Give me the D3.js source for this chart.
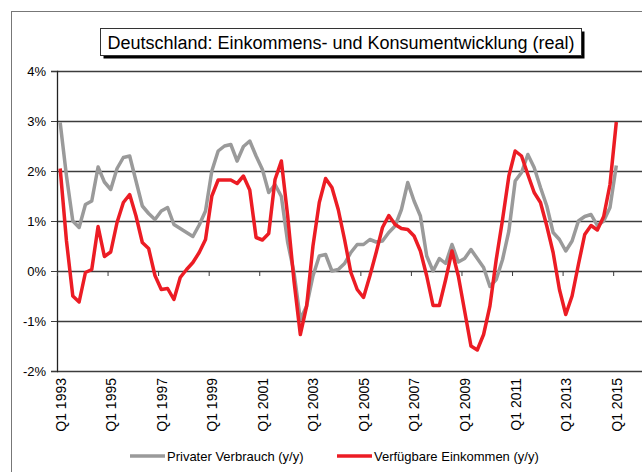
<!DOCTYPE html>
<html>
<head>
<meta charset="utf-8">
<script src="https://cdnjs.cloudflare.com/ajax/libs/d3/7.8.5/d3.min.js"></script>
<style>
  body { margin: 0; background: #ffffff; }
  text { font-family: Arial, "Liberation Sans", sans-serif; fill: #000; }
</style>
</head>
<body>
<div id="chart"></div>
<script>
// quarterly y/y rates, Q1 1993 .. Q1 2015
var startYear = 1993;
var nQuarters = 89;

var tickLabels = ["Q1 1993", "Q1 1995", "Q1 1997", "Q1 1999", "Q1 2001", "Q1 2003",
                  "Q1 2005", "Q1 2007", "Q1 2009", "Q1 2011", "Q1 2013", "Q1 2015"];

var yTicks = [-2, -1, 0, 1, 2, 3, 4];

var privaterVerbrauch = [
  2.97, 1.9, 1.0, 0.87, 1.33, 1.4, 2.08, 1.78, 1.63, 2.05,
  2.27, 2.3, 1.8, 1.3, 1.15, 1.03, 1.2, 1.27, 0.93, 0.85,
  0.77, 0.69, 0.92, 1.2, 2.0, 2.4, 2.5, 2.53, 2.2, 2.49,
  2.6, 2.3, 2.03, 1.57, 1.73, 1.49, 0.57, -0.03, -0.97, -0.7,
  -0.1, 0.3, 0.33, 0.0, 0.03, 0.15, 0.37, 0.53, 0.53, 0.63,
  0.58, 0.6, 0.77, 0.9, 1.23, 1.77, 1.4, 1.1, 0.3, 0.0,
  0.25, 0.15, 0.53, 0.18, 0.25, 0.43, 0.25, 0.07, -0.31, -0.17,
  0.23, 0.8, 1.8, 1.97, 2.33, 2.07, 1.67, 1.3, 0.77, 0.63,
  0.4, 0.6, 1.0, 1.09, 1.13, 0.91, 1.0, 1.27, 2.11
];

var verfuegbareEinkommen = [
  2.05, 0.6, -0.5, -0.62, -0.03, 0.03, 0.89, 0.29, 0.38, 0.97,
  1.37, 1.53, 1.1, 0.57, 0.45, -0.09, -0.37, -0.35, -0.57, -0.13,
  0.03, 0.17, 0.37, 0.63, 1.5, 1.82, 1.82, 1.82, 1.75, 1.9,
  1.62, 0.67, 0.62, 0.75, 1.83, 2.2, 1.1, -0.2, -1.27, -0.7,
  0.5, 1.37, 1.85, 1.67, 1.23, 0.63, -0.03, -0.37, -0.53, -0.1,
  0.37, 0.87, 1.11, 0.93, 0.85, 0.83, 0.7, 0.4, -0.1, -0.69,
  -0.69, -0.17, 0.4, -0.1, -0.8, -1.5, -1.58, -1.27, -0.7, 0.23,
  1.03, 1.9, 2.4, 2.3, 1.93, 1.57, 1.37, 0.9, 0.37, -0.37,
  -0.87, -0.5, 0.13, 0.73, 0.91, 0.82, 1.09, 1.73, 2.98
];

var seriesNames = ["Privater Verbrauch (y/y)", "Verfügbare Einkommen (y/y)"];
var seriesColors = ["#9a9a9a", "#ec1c24"];

var width = 642, height = 472;
var plot = {left: 57, top: 71, bottom: 371, right: 642};
var step = 6.32;

var svg = d3.select("#chart")
  .append("svg")
    .attr("width", width)
    .attr("height", height);

// outer chart frame (cut off at right/bottom like the original)
svg.append("rect")
  .attr("x", 11.5).attr("y", 11.5)
  .attr("width", 700).attr("height", 500)
  .attr("fill", "none")
  .attr("stroke", "#777");

// scales
var x = d3.scaleLinear()
  .domain([0, nQuarters])
  .range([plot.left, plot.left + nQuarters * step]);

var y = d3.scaleLinear()
  .domain([-2, 4])
  .range([plot.bottom, plot.top]);

// gridlines
svg.append("g")
  .attr("transform", "translate(" + plot.left + ",0)")
  .call(d3.axisRight(y).tickValues(yTicks).tickSize(plot.right - plot.left).tickFormat(""))
  .call(g => g.select(".domain").remove())
  .call(g => g.selectAll("line").attr("stroke", "#3c3c3c").attr("stroke-width", 1.3));

// y axis
svg.append("g")
  .attr("transform", "translate(" + plot.left + ",0)")
  .call(d3.axisLeft(y).tickValues(yTicks).tickSize(6).tickPadding(5).tickFormat(d => d + "%"))
  .call(g => g.select(".domain").attr("stroke", "#222").attr("stroke-width", 1.3))
  .call(g => g.selectAll("line").attr("stroke", "#3c3c3c"))
  .call(g => g.selectAll("text").style("font-size", "13px").style("font-family", "Arial, 'Liberation Sans', sans-serif"));

// category axis at 0%, ticks every 8 quarters
var tickIdx = tickLabels.map((d, i) => i * 8);
svg.append("g")
  .attr("transform", "translate(0," + y(0) + ")")
  .call(d3.axisBottom(x).tickValues(tickIdx).tickSize(5).tickFormat(""))
  .call(g => g.select(".domain").remove())
  .call(g => g.selectAll("line").attr("stroke", "#3c3c3c"));

// rotated labels at the bottom
svg.append("g")
  .selectAll("text")
  .data(tickLabels)
  .enter()
  .append("text")
    .attr("transform", (d, i) => "translate(" + (x(tickIdx[i]) + 3.5) + "," + (plot.bottom + 7) + ") rotate(-90)")
    .attr("text-anchor", "end")
    .attr("dominant-baseline", "central")
    .style("font-size", "14px")
    .text(d => d);

// lines
var line = d3.line()
  .x((d, i) => x(i + 0.5))
  .y(d => y(d));

[privaterVerbrauch, verfuegbareEinkommen].forEach(function(vals, k) {
  svg.append("path")
    .datum(vals)
    .attr("d", line)
    .attr("fill", "none")
    .attr("stroke", seriesColors[k])
    .attr("stroke-width", 3.5)
    .attr("stroke-linejoin", "round");
});

// title box with shadow
var titleBox = {x: 100.5, y: 28.5, w: 481, h: 27};
svg.append("rect")
  .attr("x", titleBox.x + 3).attr("y", titleBox.y + 3)
  .attr("width", titleBox.w).attr("height", titleBox.h)
  .attr("fill", "#000");
svg.append("rect")
  .attr("x", titleBox.x).attr("y", titleBox.y)
  .attr("width", titleBox.w).attr("height", titleBox.h)
  .attr("fill", "#fff")
  .attr("stroke", "#333");
svg.append("text")
  .attr("x", titleBox.x + titleBox.w / 2)
  .attr("y", titleBox.y + titleBox.h / 2 + 1)
  .attr("text-anchor", "middle")
  .attr("dominant-baseline", "central")
  .style("font-size", "18px")
  .text("Deutschland: Einkommens- und Konsumentwicklung (real)");

// legend
var legendX = [130, 337];
seriesNames.forEach(function(name, k) {
  svg.append("line")
    .attr("x1", legendX[k]).attr("x2", legendX[k] + 35)
    .attr("y1", 456).attr("y2", 456)
    .attr("stroke", seriesColors[k])
    .attr("stroke-width", 3.5);
  svg.append("text")
    .attr("x", legendX[k] + 37)
    .attr("y", 456)
    .attr("dominant-baseline", "central")
    .style("font-size", "13px")
    .text(name);
});
</script>
</body>
</html>
